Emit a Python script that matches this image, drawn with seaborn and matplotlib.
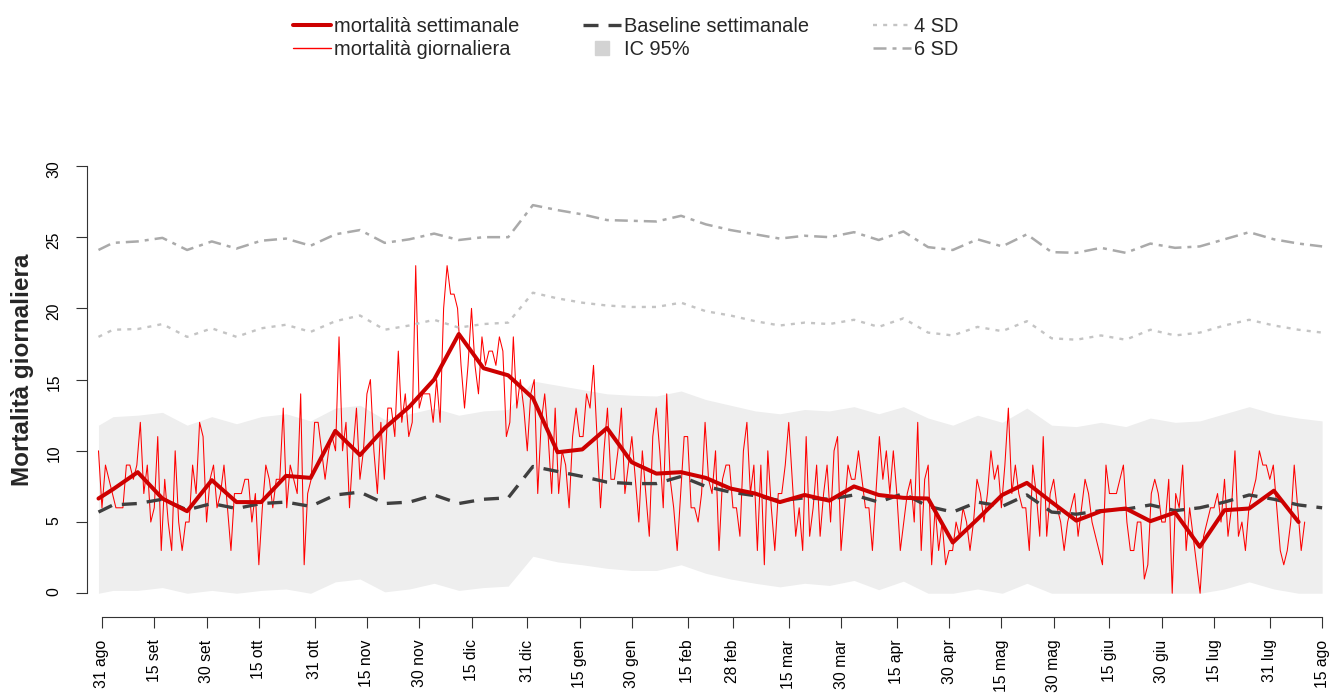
import pandas as pd
import matplotlib
matplotlib.use("Agg")
import matplotlib.pyplot as plt
import matplotlib.dates as mdates
from matplotlib.lines import Line2D
import seaborn as sns

# Stile
sns.set_theme(style="ticks")
plt.rcParams["font.family"] = ["Liberation Sans", "DejaVu Sans"]

# Mortalità giornaliera (dal 30 ago)
mortalita_giornaliera = [
    10, 6, 9, 8, 7, 6, 6, 6, 9, 9, 8, 9, 12, 7, 9, 5, 6, 11, 3, 8,
    5, 3, 10, 5, 3, 5, 5, 9, 7, 12, 11, 5, 8, 9, 6, 7, 9, 6, 3, 7,
    7, 7, 8, 8, 5, 7, 2, 6, 9, 8, 6, 8, 8, 13, 6, 9, 8, 7, 14, 2,
    7, 8, 12, 12, 10, 8, 10, 11, 10, 18, 10, 12, 6, 10, 13, 8, 10, 14, 15, 10,
    7, 12, 8, 13, 13, 11, 17, 12, 14, 11, 12, 23, 13, 14, 14, 14, 12, 15, 12,
    20, 23, 21, 21, 20, 16, 13, 16, 20, 16, 14, 18, 16, 17, 17, 16, 18, 17, 11, 12,
    18, 13, 15, 13, 10, 14, 15, 7, 12, 14, 11, 7, 13, 7, 10, 9, 6, 11, 13, 11,
    11, 14, 13, 16, 11, 6, 10, 13, 8, 8, 10, 13, 7, 9, 11, 8, 5, 10, 7, 4,
    11, 13, 10, 6, 14, 8, 6, 3, 7, 11, 11, 6, 6, 5, 7, 12, 8, 7, 10, 3,
    8, 9, 9, 6, 6, 4, 10, 12, 7, 9, 3, 9, 2, 10, 6, 3, 7, 7, 9, 12,
    8, 4, 6, 3, 11, 4, 6, 9, 4, 7, 9, 5, 10, 11, 3, 6, 9, 8, 8, 10,
    8, 6, 6, 3, 7, 11, 8, 10,
    7, 10, 7, 3, 5, 7,
    8, 5, 12, 3, 8, 9, 2, 6, 3, 5, 2, 3, 3, 5, 4, 6, 5, 3, 5, 8,
    7, 5, 7, 10, 8, 9, 6, 9, 13, 7, 9, 7, 6, 6, 3, 9, 7, 4, 11, 4,
    7, 8, 6, 5, 3, 5, 6, 7, 4, 6, 8, 7, 5, 4, 3, 2, 9, 7,
    7, 7, 8, 9, 5, 3, 3, 5, 5, 1, 2, 7, 8, 7, 5, 5, 8, 0, 7, 6,
    9, 3, 6, 4, 2, 0, 4, 5, 6, 6, 7, 5, 8, 4, 6, 10, 4, 5, 3, 6,
    7, 8, 10, 9, 9, 8, 9, 6, 3, 2, 3, 5, 9, 6, 3, 5,
]

# Valori settimanali
mortalita_settimanale = [
    6.65, 7.3, 8.5, 6.65, 5.76, 7.94, 6.4, 6.4, 8.24, 8.1, 11.4, 9.7, 11.6, 13.1, 15.0,
    18.2, 15.8, 15.3, 13.7, 9.9, 10.1, 11.6, 9.2, 8.4, 8.5, 8.1, 7.35, 7.0, 6.4, 6.9,
    6.5, 7.5, 6.9, 6.7, 6.65, 3.56, 5.2, 6.9, 7.75, 6.4, 5.1, 5.76, 5.95, 5.06, 5.67,
    3.26, 5.83, 5.95, 7.2, 5.0,
]
baseline = [
    5.7, 6.2, 6.3, 6.6, 5.85, 6.3, 5.95, 6.3, 6.4, 6.1, 6.9, 7.1, 6.3, 6.4, 6.9, 6.3,
    6.6, 6.7, 8.9, 8.55, 8.2, 7.8, 7.7, 7.7, 8.2, 7.5, 7.1, 6.85, 6.5, 6.7, 6.6, 6.9,
    6.4, 7.0, 6.1, 5.7, 6.4, 6.1, 6.9, 5.7, 5.55, 5.8, 5.9, 6.2, 5.8, 6.0, 6.4, 6.9,
    6.6, 6.2, 6.0,
]
ic_inf = [
    0.0, 0.2, 0.2, 0.4, 0.0, 0.2, 0.0, 0.2, 0.3, 0.0, 0.8, 1.0, 0.1, 0.3, 0.7, 0.2,
    0.4, 0.5, 2.6, 2.2, 2.0, 1.75, 1.6, 1.6, 2.0, 1.4, 1.0, 0.7, 0.45, 0.7, 0.55, 0.9,
    0.25, 0.85, 0.0, 0.0, 0.3, 0.0, 0.7, 0.0, 0.0, 0.0, 0.0, 0.0, 0.0, 0.0, 0.3, 0.8,
    0.3, 0.0, 0.0,
]
ic_sup = [
    11.8, 12.4, 12.5, 12.7, 11.8, 12.4, 11.9, 12.4, 12.6, 12.1, 13.0, 13.2, 12.2, 12.6,
    13.0, 12.5, 12.8, 12.9, 14.9, 14.6, 14.3, 14.0, 13.9, 13.85, 14.2, 13.6, 13.2, 12.8,
    12.6, 12.9, 12.8, 13.1, 12.6, 13.1, 12.3, 11.8, 12.5, 12.0, 13.0, 11.8, 11.7, 12.0,
    11.7, 12.3, 12.0, 12.1, 12.6, 13.1, 12.6, 12.3, 12.1,
]
sd4 = [
    18.0, 18.5, 18.55, 18.9, 18.0, 18.6, 18.0, 18.6, 18.85, 18.35, 19.1, 19.5, 18.5,
    18.8, 19.2, 18.65, 18.9, 19.0, 21.1, 20.7, 20.4, 20.2, 20.1, 20.1, 20.4, 19.8, 19.5,
    19.1, 18.8, 19.0, 18.9, 19.2, 18.7, 19.3, 18.3, 18.1, 18.7, 18.4, 19.1, 17.9, 17.8,
    18.1, 17.8, 18.5, 18.1, 18.3, 18.8, 19.2, 18.8, 18.5, 18.3,
]
sd6 = [
    24.1, 24.6, 24.7, 24.95, 24.1, 24.7, 24.2, 24.75, 24.9, 24.4, 25.2, 25.5, 24.6,
    24.85, 25.25, 24.8, 25.0, 25.0, 27.25, 26.9, 26.6, 26.2, 26.15, 26.1, 26.5, 25.9,
    25.5, 25.2, 24.9, 25.1, 25.0, 25.35, 24.8, 25.4, 24.3, 24.1, 24.85, 24.35, 25.2,
    23.95, 23.9, 24.25, 23.9, 24.55, 24.25, 24.35, 24.85, 25.35, 24.85, 24.55, 24.35,
]

tick_date = [
    "2019-08-31", "2019-09-15", "2019-09-30", "2019-10-15", "2019-10-31", "2019-11-15",
    "2019-11-30", "2019-12-15", "2019-12-31", "2020-01-15", "2020-01-30", "2020-02-15",
    "2020-02-28", "2020-03-15", "2020-03-30", "2020-04-15", "2020-04-30", "2020-05-15",
    "2020-05-30", "2020-06-15", "2020-06-30", "2020-07-15", "2020-07-31", "2020-08-15",
]
tick_label = [
    "31 ago", "15 set", "30 set", "15 ott", "31 ott", "15 nov", "30 nov", "15 dic",
    "31 dic", "15 gen", "30 gen", "15 feb", "28 feb", "15 mar", "30 mar", "15 apr",
    "30 apr", "15 mag", "30 mag", "15 giu", "30 giu", "15 lug", "31 lug", "15 ago",
]

# Date
giorni = pd.date_range("2019-08-30", periods=len(mortalita_giornaliera), freq="D")
settimane = pd.DatetimeIndex(
    [pd.Timestamp("2019-08-30")]
    + list(pd.date_range("2019-09-03 04:00", "2020-08-08 06:00", periods=49))
    + [pd.Timestamp("2020-08-15")]
)

df_g = pd.DataFrame({"data": giorni, "valore": mortalita_giornaliera})
df_s = pd.DataFrame({
    "data": settimane, "baseline": baseline, "ic_inf": ic_inf,
    "ic_sup": ic_sup, "sd4": sd4, "sd6": sd6,
})
df_m = pd.DataFrame({"data": settimane[:len(mortalita_settimanale)],
                     "valore": mortalita_settimanale})

# Figura
W, H = 1336, 695
fig = plt.figure(figsize=(W / 100, H / 100), dpi=100)
x0, x1 = 95.0, 1325.6
y0, y1 = 607.5, 151.7
ax = fig.add_axes([x0 / W, 1 - y0 / H, (x1 - x0) / W, (y0 - y1) / H])

ax.fill_between(df_s["data"], df_s["ic_inf"], df_s["ic_sup"],
                color="#EEEEEE", linewidth=0, zorder=1)
sns.lineplot(data=df_g, x="data", y="valore", ax=ax, color="#FF0000",
             linewidth=0.75, zorder=2)
sns.lineplot(data=df_s, x="data", y="baseline", ax=ax, color="#3F3F3F",
             linewidth=2.4, linestyle=(0, (4.5, 3)), zorder=3)
sns.lineplot(data=df_m, x="data", y="valore", ax=ax, color="#CD0000",
             linewidth=2.9, zorder=4)
sns.lineplot(data=df_s, x="data", y="sd4", ax=ax, color="#C4C4C4",
             linewidth=1.7, linestyle=(0, (1.7, 2.6)), zorder=3)
sns.lineplot(data=df_s, x="data", y="sd6", ax=ax, color="#AAAAAA",
             linewidth=1.8, linestyle=(0, (5.2, 2.4, 1.6, 2.4)), zorder=3)

ax.set_xlim(pd.Timestamp("2019-08-29"), pd.Timestamp("2020-08-16"))
ax.set_ylim(-1, 31)
ax.set_xlabel("")
ax.set_ylabel("")

ax.set_xticks(pd.to_datetime(tick_date))
ax.set_xticklabels(tick_label)
ax.set_yticks([0, 5, 10, 15, 20, 25, 30])
ax.set_yticklabels(["0", "5", "10", "15", "20", "25", "30"])
ax.tick_params(axis="both", length=7.6, width=0.8, color="#333333",
               labelcolor="black", labelsize=11.3, labelrotation=90)
ax.tick_params(axis="y", pad=10.8)
ax.tick_params(axis="x", pad=8.6)
for t in ax.get_yticklabels():
    t.set_verticalalignment("center")

for s in ["top", "right"]:
    ax.spines[s].set_visible(False)
ax.spines["left"].set_position(("outward", 5.6))
ax.spines["left"].set_bounds(0, 30)
ax.spines["bottom"].set_position(("outward", 6.8))
ax.spines["bottom"].set_bounds(mdates.date2num(pd.Timestamp(tick_date[0])),
                               mdates.date2num(pd.Timestamp(tick_date[-1])))
for s in ["left", "bottom"]:
    ax.spines[s].set_color("#333333")
    ax.spines[s].set_linewidth(0.8)

fig.text(22 / W, 1 - 370 / H, "Mortalità giornaliera", rotation=90,
         ha="center", va="center", fontsize=17.5, fontweight="bold")

# Legenda
handles = [
    Line2D([], [], color="#CD0000", linewidth=2.9),
    Line2D([], [], color="#FF0000", linewidth=1.0),
    Line2D([], [], color="#3F3F3F", linewidth=2.4, linestyle=(0, (4.5, 3))),
    Line2D([], [], color="#D3D3D3", marker="s", markersize=9.5, linestyle="None"),
    Line2D([], [], color="#C4C4C4", linewidth=1.7, linestyle=(0, (1.7, 2.6))),
    Line2D([], [], color="#AAAAAA", linewidth=1.8, linestyle=(0, (5.2, 2.4, 1.6, 2.4))),
]
labels = ["mortalità settimanale", "mortalità giornaliera", "Baseline settimanale",
          "IC 95%", "4 SD", "6 SD"]
fig.legend(handles, labels, ncol=3, loc="upper left",
           bbox_to_anchor=(293 / W, 1 - 17 / H), frameon=False, fontsize=14.4,
           handlelength=1.9, handletextpad=0.15, columnspacing=3.2,
           labelspacing=0.22, borderpad=0, borderaxespad=0)

fig.savefig("out.png", dpi=100)
